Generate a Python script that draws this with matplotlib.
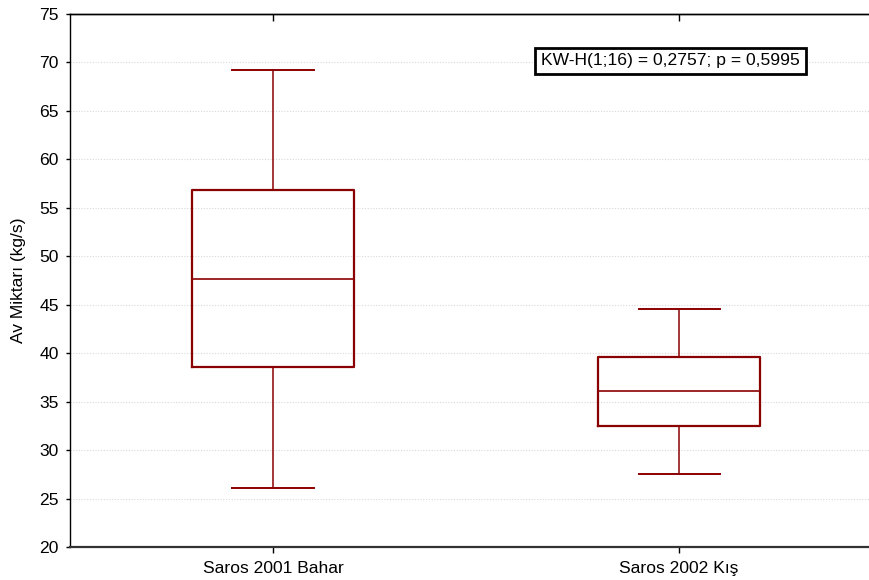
import matplotlib
matplotlib.use("Agg")
import matplotlib.pyplot as plt

plt.rcParams['font.family'] = ['Liberation Sans', 'DejaVu Sans']

categories = ["Saros 2001 Bahar", "Saros 2002 Kış"]
whislo = [26.1, 27.5]
q1 = [38.6, 32.5]
med = [47.7, 36.1]
q3 = [56.8, 39.6]
whishi = [69.2, 44.6]
annotation = "KW-H(1;16) = 0,2757; p = 0,5995"
ylabel = "Av Miktarı (kg/s)"
yticks = [20, 25, 30, 35, 40, 45, 50, 55, 60, 65, 70, 75]

color = "#8B0000"
fs = 12.6

fig = plt.figure(figsize=(8.7, 5.8), dpi=100)
ax = fig.add_axes([0.0805, 0.0569, 0.9195, 0.919])

stats = []
for i, c in enumerate(categories):
    stats.append(dict(label=c, whislo=whislo[i], q1=q1[i], med=med[i],
                      q3=q3[i], whishi=whishi[i], fliers=[]))

ax.bxp(stats, positions=[1, 2], widths=0.4, showfliers=False,
       boxprops=dict(color=color, linewidth=1.6),
       medianprops=dict(color=color, linewidth=1.2),
       whiskerprops=dict(color=color, linewidth=1.1),
       capprops=dict(color=color, linewidth=1.4),
       capwidths=0.2)

ax.set_xlim(0.5, 2.47)
ax.set_ylim(20, 75)
ax.set_yticks(yticks)
ax.set_xticks([1, 2])
ax.set_xticklabels(categories)
ax.tick_params(axis='both', labelsize=fs, width=1)
ax.tick_params(axis='y', length=3, pad=5)
ax.tick_params(axis='x', length=4, pad=6)
top = ax.secondary_xaxis('top')
top.set_xticks([1, 2], labels=[])
top.tick_params(axis='x', direction='in', length=5, width=1)
top.spines['top'].set_linewidth(1.0)
ax.yaxis.grid(True, linestyle=(0, (1, 1.5)), color='#d8d8d8', linewidth=0.8)
ax.set_axisbelow(True)
ax.spines['right'].set_visible(False)
ax.spines['left'].set_linewidth(1.0)
ax.spines['top'].set_linewidth(1.0)
ax.spines['bottom'].set_linewidth(1.6)
ax.spines['bottom'].set_color('#333333')

ax.set_ylabel(ylabel, fontsize=fs, labelpad=10)

ax.text(1.979, 70.15, annotation, fontsize=fs, ha='center', va='center',
        bbox=dict(boxstyle='square,pad=0.33', facecolor='white',
                  edgecolor='black', linewidth=2))

fig.savefig("out.png", dpi=100)
